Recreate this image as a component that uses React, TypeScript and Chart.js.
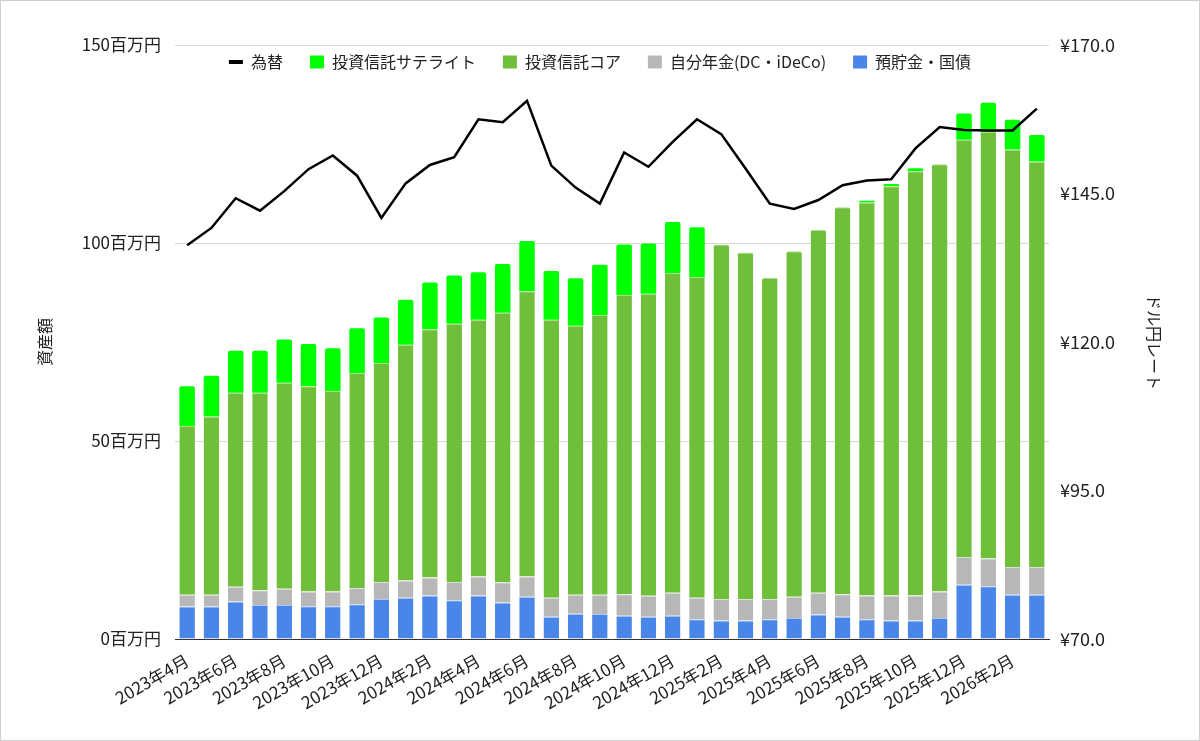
import React, { useEffect, useRef } from "react";
import { Chart, registerables } from "chart.js";

Chart.register(...registerables);

const labels = [
  "2023年4月", "2023年5月", "2023年6月", "2023年7月", "2023年8月", "2023年9月",
  "2023年10月", "2023年11月", "2023年12月", "2024年1月", "2024年2月", "2024年3月",
  "2024年4月", "2024年5月", "2024年6月", "2024年7月", "2024年8月", "2024年9月",
  "2024年10月", "2024年11月", "2024年12月", "2025年1月", "2025年2月", "2025年3月",
  "2025年4月", "2025年5月", "2025年6月", "2025年7月", "2025年8月", "2025年9月",
  "2025年10月", "2025年11月", "2025年12月", "2026年1月", "2026年2月", "2026年3月",
];

// 預貯金・国債 (百万円)
const deposits = [
  8.2, 8.2, 9.5, 8.6, 8.6, 8.3, 8.3, 8.8, 10.1, 10.4, 11.0, 9.8,
  11.0, 9.2, 10.7, 5.6, 6.4, 6.3, 5.9, 5.6, 5.9, 5.0, 4.7, 4.7,
  5.0, 5.3, 6.2, 5.6, 5.0, 4.7, 4.7, 5.3, 13.7, 13.3, 11.2, 11.2,
];

// 自分年金(DC・iDeCo) (百万円)
const pension = [
  3.0, 3.0, 3.7, 3.7, 4.1, 3.7, 3.7, 4.1, 4.3, 4.4, 4.5, 4.6,
  4.8, 5.1, 5.1, 4.8, 4.8, 4.9, 5.4, 5.3, 5.8, 5.4, 5.4, 5.4,
  5.1, 5.4, 5.5, 5.7, 6.0, 6.3, 6.3, 6.7, 7.0, 7.0, 7.0, 7.0,
];

// 投資信託コア (百万円)
const core = [
  42.6, 45.0, 49.0, 49.9, 52.0, 51.8, 50.6, 54.3, 55.3, 59.5, 62.7, 65.2,
  64.8, 68.1, 72.0, 70.2, 67.9, 70.6, 75.6, 76.3, 80.7, 81.0, 89.5, 87.5,
  81.1, 87.2, 91.6, 97.7, 99.2, 103.3, 107.1, 107.9, 105.4, 107.7, 105.4, 102.4,
];

// 投資信託サテライト (百万円)
const satellite = [
  10.0, 10.3, 10.6, 10.6, 10.9, 10.7, 10.8, 11.3, 11.5, 11.4, 11.8, 12.2,
  12.0, 12.3, 12.7, 12.3, 12.0, 12.7, 12.7, 12.7, 12.9, 12.6, 0, 0,
  0, 0, 0, 0, 0.5, 0.6, 0.8, 0, 6.6, 7.4, 7.5, 6.7,
];

// 為替 (ドル円)
const rate = [
  136.3, 139.2, 144.2, 142.1, 145.4, 149.1, 151.4, 148.0, 140.9, 146.7, 149.8, 151.1,
  157.5, 157.0, 160.6, 149.7, 146.0, 143.3, 151.9, 149.5, 153.7, 157.5, 155.0, 149.2,
  143.3, 142.4, 143.9, 146.4, 147.2, 147.4, 152.6, 156.2, 155.7, 155.6, 155.6, 159.3,
];

const leftTicks = [0, 50, 100, 150];
const rightTicks = [70, 95, 120, 145, 170];

const FONT = "'Noto Sans CJK JP', 'Noto Sans', sans-serif";
const TEXT = "#222222";
const LEGEND_PAD = 27;

export default function App() {
  const ref = useRef<HTMLCanvasElement | null>(null);

  useEffect(() => {
    if (!ref.current) return;
    Chart.defaults.font.family = FONT;
    Chart.defaults.color = TEXT;

    // move the legend down so it sits just inside the plot, under the top grid line
    const legendShift = {
      id: "legendShift",
      afterLayout(chart: any) {
        const lg = chart.legend;
        if (lg) {
          const dy = 62 - (lg.top + LEGEND_PAD + 8);
          lg.top += dy;
          lg.bottom += dy;
        }
      },
    };

    const barCommon = {
      type: "bar" as const,
      yAxisID: "y",
      stack: "assets",
      order: 1,
      barPercentage: 0.64,
      categoryPercentage: 1,
      borderRadius: 2,
      borderSkipped: "start" as const,
    };

    const chart = new Chart(ref.current, {
      data: {
        labels,
        datasets: [
          { ...barCommon, label: "預貯金・国債", data: deposits, backgroundColor: "#4a86e8", borderColor: "#a9c8f5", borderWidth: { top: 1, left: 0, right: 0, bottom: 0 } },
          { ...barCommon, label: "自分年金(DC・iDeCo)", data: pension, backgroundColor: "#b7b7b7", borderColor: "#dedede", borderWidth: { top: 1, left: 0, right: 0, bottom: 0 } },
          { ...barCommon, label: "投資信託コア", data: core, backgroundColor: "#6fbf3a", borderColor: "#a8dc86", borderWidth: { top: 1, left: 0, right: 0, bottom: 0 } },
          { ...barCommon, label: "投資信託サテライト", data: satellite, backgroundColor: "#00ff00", borderColor: "#00ff00", borderWidth: 0 },
          {
            type: "line" as const,
            label: "為替",
            data: rate,
            yAxisID: "y1",
            order: 0,
            borderColor: "#000000",
            backgroundColor: "#000000",
            borderWidth: 2.5,
            pointRadius: 0,
            pointHoverRadius: 0,
            tension: 0,
            fill: false,
          },
        ],
      } as any,
      options: {
        animation: false,
        responsive: true,
        maintainAspectRatio: false,
        layout: { padding: { top: 45 - (16 + LEGEND_PAD + 10), left: 0, right: 0, bottom: 0 } },
        plugins: {
          tooltip: { enabled: false },
          legend: {
            position: "top",
            align: "center",
            labels: {
              usePointStyle: true,
              pointStyleWidth: 14,
              boxWidth: 14,
              boxHeight: 13,
              padding: LEGEND_PAD,
              color: TEXT,
              font: { size: 16, family: FONT },
              generateLabels(chart: any) {
                const items = (Chart.defaults.plugins.legend.labels as any).generateLabels(chart);
                items.forEach((it: any) => {
                  if (it.datasetIndex === 4) {
                    it.pointStyle = "line";
                    it.lineWidth = 4;
                    it.strokeStyle = "#000000";
                    it.fillStyle = "#000000";
                  } else {
                    it.pointStyle = "rect";
                    it.lineWidth = 0;
                    it.strokeStyle = it.fillStyle;
                  }
                });
                return items;
              },
              sort(a: any, b: any) {
                const key = (it: any) => (it.datasetIndex === 4 ? -1 : 10 - it.datasetIndex);
                return key(a) - key(b);
              },
            },
          },
        },
        scales: {
          x: {
            stacked: true,
            offset: true,
            grid: { display: false },
            border: { display: true, color: "#333333", width: 1 },
            ticks: {
              autoSkip: false,
              minRotation: 30,
              maxRotation: 30,
              padding: 3,
              color: TEXT,
              font: { size: 17, family: FONT },
              callback: (_v: any, i: number) => (i % 2 === 0 ? labels[i] : ""),
            },
            afterFit(scale: any) {
              scale.height = 102;
            },
          },
          y: {
            type: "linear",
            position: "left",
            stacked: true,
            min: 0,
            max: 150,
            afterBuildTicks(scale: any) {
              scale.ticks = leftTicks.map((v) => ({ value: v }));
            },
            grid: { color: "#d9d9d9", drawTicks: false, lineWidth: 1 },
            border: { display: false },
            ticks: {
              padding: 14,
              color: TEXT,
              font: { size: 17, family: FONT },
              callback: (v: any) => `${v}百万円`,
            },
            title: {
              display: true,
              text: "資産額",
              color: TEXT,
              font: { size: 16, family: FONT },
              padding: { top: 35, bottom: 0 },
            },
            afterFit(scale: any) {
              scale.width = 175;
            },
          },
          y1: {
            type: "linear",
            position: "right",
            min: 70,
            max: 170,
            afterBuildTicks(scale: any) {
              scale.ticks = rightTicks.map((v) => ({ value: v }));
            },
            grid: { display: false, drawTicks: false },
            border: { display: false },
            ticks: {
              padding: 11,
              color: TEXT,
              font: { size: 18, family: FONT },
              callback: (v: any) => `¥${Number(v).toFixed(1)}`,
            },
            title: {
              display: true,
              text: "ドル円レート",
              color: TEXT,
              font: { size: 16, family: FONT },
              padding: { top: 36, bottom: 0 },
            },
            afterFit(scale: any) {
              scale.width = 151;
            },
          },
        },
      } as any,
      plugins: [legendShift],
    });

    return () => chart.destroy();
  }, []);

  return (
    <div
      style={{
        position: "absolute",
        left: 0,
        top: 0,
        width: 1200,
        height: 741,
        background: "#ffffff",
        outline: "1px solid #cfcfcf",
        outlineOffset: -1,
        overflow: "hidden",
      }}
    >
      <canvas ref={ref} />
    </div>
  );
}
